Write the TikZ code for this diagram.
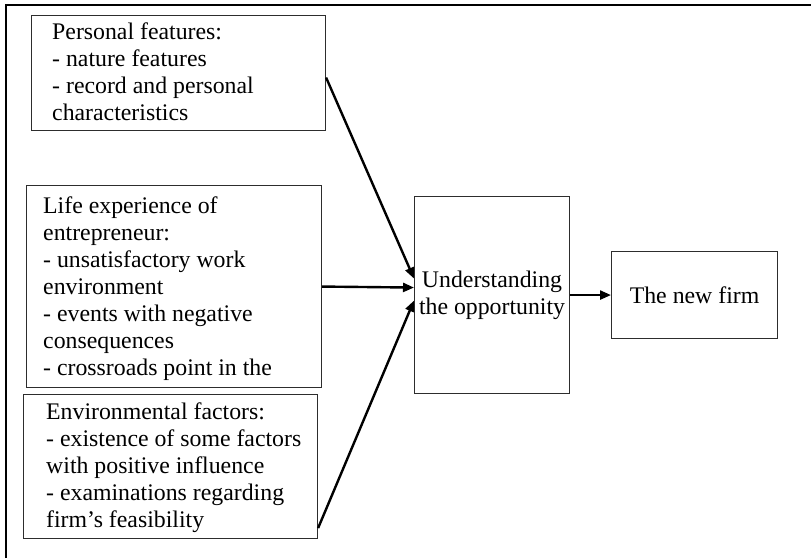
\documentclass[tikz,border=0pt]{standalone}
\usepackage{fontspec}
\setmainfont{Liberation Serif}
\usetikzlibrary{arrows.meta}

\begin{document}
\begin{tikzpicture}[x=1pt,y=1pt,yscale=-1,xscale=1,
	framebox/.style={draw={rgb,255:red,45;green,45;blue,45}, line width=1.1pt, anchor=north west, inner sep=0pt},
	listtext/.style={anchor=base west, align=left, inner sep=0pt, font=\fontsize{23.8}{27}\selectfont},
	stagetext/.style={align=center, inner sep=0pt, font=\fontsize{23.8}{27}\selectfont},
	link/.style={line width=2.4pt, -{Triangle[length=11pt,width=9pt]}}]
	\useasboundingbox (0,0) rectangle (811,558);

	%Outer frame
	\draw [line width=2pt] (6,558) -- (6,5) -- (811,5) ;

	% Frames
	\node (pers) [framebox, minimum width=294pt, minimum height=115pt] at (31,15) {};
	\node (life) [framebox, minimum width=295pt, minimum height=202pt] at (26,185) {};
	\node (env) [framebox, minimum width=294pt, minimum height=144pt] at (23,394) {};
	\node (und) [framebox, minimum width=155pt, minimum height=197pt] at (414,196) {};
	\node (firm) [framebox, minimum width=166pt, minimum height=87pt] at (611,251) {};

	% Text Node (anchored at the baseline of the last line)
	\node (perstext) [listtext] at (52,120) {Personal features:\\- nature features\\- record and personal\\characteristics};
	% Text Node
	\node (lifetext) [listtext] at (43,375) {Life experience of\\entrepreneur:\\- unsatisfactory work\\environment\\- events with negative\\consequences\\- crossroads point in the};
	% Text Node
	\node (envtext) [listtext] at (46,527) {Environmental factors:\\- existence of some factors\\with positive influence\\- examinations regarding\\firm's feasibility};
	% Text Node
	\node (undtext) [stagetext] at (und.center) {Understanding\\the opportunity};
	% Text Node
	\node (firmtext) [stagetext] at (firm.center) {The new firm};

	%Straight Lines
	\draw [link] ([yshift=4.5pt]pers.east) -- ([yshift=-16.5pt]und.west) ;
	%Straight Lines
	\draw [link] (life.east) -- ([yshift=-7.5pt]und.west) ;
	%Straight Lines
	\draw [link] ([yshift=-11pt]env.south east) -- ([yshift=5.5pt]und.west) ;
	%Straight Lines
	\draw [link] (und.east) -- (firm.west) ;

\end{tikzpicture}
\end{document}
